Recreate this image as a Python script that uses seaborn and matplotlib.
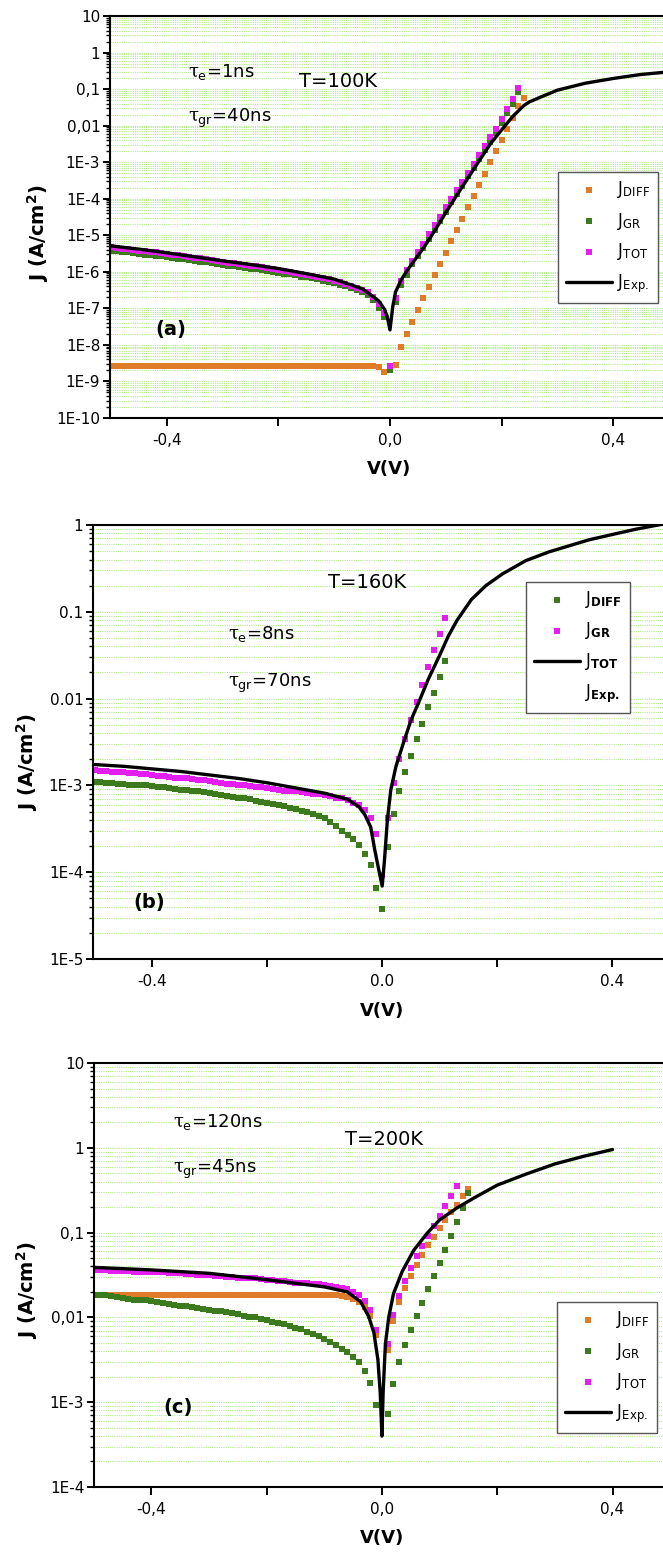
import numpy as np
import matplotlib
matplotlib.use('Agg')
import matplotlib.pyplot as plt
from matplotlib.lines import Line2D
from matplotlib.ticker import LogLocator, NullFormatter
import seaborn as sns


############
# Parameters
############
W, H = 663, 1554          # figure size in pixels (dpi 100)
NaN = np.nan

ORANGE = '#e07b2a'
GREEN = '#3c7a1e'
MAGENTA = '#e41df0'
GRID_GREEN = '#b2ee84'


######
# Data
######
# Bias grid of the simulated points (V)
V_GRID = [
    -0.50, -0.49, -0.48, -0.47, -0.46, -0.45, -0.44, -0.43, -0.42, -0.41,
    -0.40, -0.39, -0.38, -0.37, -0.36, -0.35, -0.34, -0.33, -0.32, -0.31,
    -0.30, -0.29, -0.28, -0.27, -0.26, -0.25, -0.24, -0.23, -0.22, -0.21,
    -0.20, -0.19, -0.18, -0.17, -0.16, -0.15, -0.14, -0.13, -0.12, -0.11,
    -0.10, -0.09, -0.08, -0.07, -0.06, -0.05, -0.04, -0.03, -0.02, -0.01,
    0.00, 0.01, 0.02, 0.03, 0.04, 0.05, 0.06, 0.07, 0.08, 0.09,
    0.10, 0.11, 0.12, 0.13, 0.14, 0.15, 0.16, 0.17, 0.18, 0.19,
    0.20, 0.21, 0.22, 0.23, 0.24,
]

# (a) T=100K  -- log10(J)
A_DIFF_LOG = [
    -8.57, -8.57, -8.57, -8.57, -8.57, -8.57, -8.57, -8.57, -8.57, -8.57,
    -8.57, -8.57, -8.57, -8.57, -8.57, -8.57, -8.57, -8.57, -8.57, -8.57,
    -8.57, -8.57, -8.57, -8.57, -8.57, -8.57, -8.57, -8.57, -8.57, -8.57,
    -8.57, -8.57, -8.57, -8.57, -8.57, -8.57, -8.57, -8.57, -8.57, -8.57,
    -8.57, -8.57, -8.57, -8.57, -8.57, -8.57, -8.57, -8.59, -8.61, -8.74,
    NaN, -8.56, -8.07, -7.70, -7.36, -7.04, -6.72, -6.41, -6.09, -5.78,
    -5.48, -5.17, -4.86, -4.55, -4.24, -3.93, -3.63, -3.32, -3.00, -2.70,
    -2.40, -2.09, -1.78, -1.47, -1.25,
]
A_GR_LOG = [
    -5.42, -5.44, -5.46, -5.47, -5.49, -5.51, -5.53, -5.55, -5.56, -5.58,
    -5.60, -5.62, -5.64, -5.66, -5.68, -5.70, -5.72, -5.74, -5.77, -5.79,
    -5.81, -5.83, -5.85, -5.87, -5.89, -5.91, -5.93, -5.96, -5.98, -6.00,
    -6.02, -6.05, -6.07, -6.10, -6.13, -6.15, -6.18, -6.21, -6.24, -6.27,
    -6.31, -6.35, -6.39, -6.44, -6.50, -6.56, -6.64, -6.76, -6.98, -7.24,
    -8.69, -6.83, -6.37, -6.08, -5.79, -5.58, -5.35, -5.10, -4.85, -4.61,
    -4.35, -4.10, -3.87, -3.64, -3.39, -3.16, -2.92, -2.68, -2.44, -2.19,
    -1.94, -1.66, -1.40, -1.09,
]
A_TOT_LOG = [
    -5.33, -5.35, -5.37, -5.38, -5.40, -5.42, -5.44, -5.46, -5.47, -5.49,
    -5.51, -5.53, -5.55, -5.57, -5.59, -5.61, -5.63, -5.65, -5.68, -5.70,
    -5.73, -5.75, -5.77, -5.79, -5.81, -5.83, -5.85, -5.88, -5.90, -5.92,
    -5.95, -5.98, -6.00, -6.03, -6.06, -6.08, -6.11, -6.14, -6.18, -6.21,
    -6.25, -6.29, -6.33, -6.38, -6.44, -6.50, -6.56, -6.68, -6.88, -7.13,
    -8.57, -6.73, -6.26, -5.96, -5.70, -5.47, -5.25, -4.96, -4.73, -4.49,
    -4.24, -4.01, -3.77, -3.53, -3.30, -3.05, -2.81, -2.57, -2.32, -2.08,
    -1.81, -1.55, -1.27, -0.98,
]
A_EXP_V = [-0.50, -0.45, -0.40, -0.35, -0.30, -0.25, -0.20, -0.15, -0.10, -0.05,
           -0.03, -0.02, -0.01, -0.005, 0.0, 0.005, 0.01, 0.02, 0.03, 0.04,
           0.05, 0.06, 0.08, 0.10, 0.12, 0.14, 0.16, 0.18, 0.20, 0.22,
           0.24, 0.25, 0.27, 0.30, 0.35, 0.40, 0.45, 0.52]
A_EXP_LOG = [-5.29, -5.38, -5.48, -5.59, -5.70, -5.80, -5.91, -6.05, -6.20, -6.46,
             -6.68, -6.80, -7.02, -7.22, -7.59, -6.95, -6.55, -6.22, -5.98, -5.77,
             -5.56, -5.35, -4.88, -4.38, -3.90, -3.43, -2.96, -2.50, -2.12, -1.75,
             -1.45, -1.35, -1.22, -1.03, -0.84, -0.71, -0.60, -0.50]

# (b) T=160K
B_DIFF_LOG = [
    -2.96, -2.96, -2.97, -2.97, -2.98, -2.98, -2.99, -2.99, -3.00, -3.00,
    -3.01, -3.02, -3.02, -3.03, -3.04, -3.05, -3.05, -3.06, -3.07, -3.08,
    -3.09, -3.10, -3.11, -3.12, -3.13, -3.14, -3.15, -3.16, -3.18, -3.19,
    -3.20, -3.21, -3.23, -3.24, -3.26, -3.27, -3.29, -3.31, -3.33, -3.35,
    -3.38, -3.42, -3.47, -3.52, -3.57, -3.62, -3.69, -3.79, -3.92, -4.18,
    -4.42, -3.71, -3.33, -3.07, -2.85, -2.66, -2.47, -2.29, -2.10, -1.93,
    -1.75, -1.57,
]
B_GR_LOG = [
    -2.82, -2.83, -2.83, -2.84, -2.84, -2.85, -2.86, -2.86, -2.87, -2.87,
    -2.88, -2.89, -2.89, -2.90, -2.91, -2.91, -2.92, -2.93, -2.94, -2.94,
    -2.95, -2.96, -2.97, -2.98, -2.98, -2.99, -3.00, -3.01, -3.02, -3.02,
    -3.03, -3.04, -3.05, -3.06, -3.06, -3.07, -3.08, -3.09, -3.10, -3.10,
    -3.11, -3.12, -3.14, -3.15, -3.17, -3.20, -3.23, -3.28, -3.37, -3.56,
    -4.03, -3.37, -2.97, -2.70, -2.47, -2.25, -2.04, -1.84, -1.64, -1.44,
    -1.26, -1.07,
]
B_EXP_V = [-0.50, -0.45, -0.40, -0.35, -0.30, -0.25, -0.20, -0.15, -0.10, -0.06,
           -0.04, -0.03, -0.02, -0.013, -0.006, 0.0, 0.004, 0.009, 0.015, 0.024,
           0.036, 0.05, 0.065, 0.08, 0.10, 0.115, 0.13, 0.155, 0.18, 0.21,
           0.25, 0.29, 0.36, 0.44, 0.52]
B_EXP_LOG = [-2.76, -2.78, -2.81, -2.84, -2.88, -2.92, -2.97, -3.03, -3.09, -3.16,
             -3.25, -3.34, -3.48, -3.74, -3.97, -4.16, -3.86, -3.40, -3.05, -2.78,
             -2.53, -2.25, -2.02, -1.78, -1.50, -1.28, -1.10, -0.86, -0.70, -0.56,
             -0.41, -0.31, -0.17, -0.05, 0.05]

# (c) T=200K
C_DIFF_LOG = [
    -1.73, -1.73, -1.73, -1.73, -1.73, -1.73, -1.73, -1.73, -1.73, -1.73,
    -1.73, -1.73, -1.73, -1.73, -1.73, -1.73, -1.73, -1.73, -1.73, -1.73,
    -1.73, -1.73, -1.73, -1.73, -1.73, -1.73, -1.73, -1.73, -1.73, -1.73,
    -1.73, -1.73, -1.73, -1.73, -1.73, -1.73, -1.73, -1.73, -1.73, -1.73,
    -1.73, -1.73, -1.74, -1.75, -1.76, -1.78, -1.82, -1.88, -1.98, -2.21,
    NaN, -2.39, -2.04, -1.82, -1.65, -1.51, -1.38, -1.26, -1.15, -1.05,
    -0.95, -0.85, -0.76, -0.67, -0.57, -0.48,
]
C_GR_LOG = [
    -1.73, -1.74, -1.74, -1.75, -1.76, -1.77, -1.78, -1.79, -1.79, -1.80,
    -1.81, -1.82, -1.83, -1.84, -1.85, -1.86, -1.87, -1.88, -1.89, -1.90,
    -1.91, -1.92, -1.93, -1.94, -1.95, -1.96, -1.98, -1.99, -2.00, -2.02,
    -2.03, -2.05, -2.07, -2.08, -2.10, -2.12, -2.14, -2.17, -2.19, -2.22,
    -2.25, -2.29, -2.33, -2.37, -2.41, -2.47, -2.53, -2.63, -2.77, -3.03,
    NaN, -3.14, -2.78, -2.53, -2.33, -2.15, -1.98, -1.83, -1.67, -1.51,
    -1.36, -1.20, -1.04, -0.88, -0.71, -0.53,
]
C_TOT_LOG = [
    -1.44, -1.44, -1.44, -1.45, -1.45, -1.45, -1.45, -1.46, -1.46, -1.46,
    -1.46, -1.47, -1.47, -1.48, -1.48, -1.48, -1.49, -1.49, -1.50, -1.50,
    -1.50, -1.51, -1.51, -1.52, -1.52, -1.53, -1.53, -1.54, -1.54, -1.55,
    -1.56, -1.56, -1.57, -1.57, -1.58, -1.59, -1.59, -1.60, -1.61, -1.61,
    -1.62, -1.63, -1.64, -1.65, -1.67, -1.70, -1.74, -1.81, -1.91, -2.15,
    NaN, -2.31, -1.97, -1.75, -1.57, -1.42, -1.28, -1.16, -1.04, -0.92,
    -0.80, -0.69, -0.57, -0.45,
]
C_EXP_V = [-0.50, -0.40, -0.30, -0.20, -0.10, -0.06, -0.037, -0.023, -0.014, -0.007,
           -0.003, 0.0, 0.002, 0.006, 0.012, 0.020, 0.035, 0.055, 0.078, 0.10,
           0.13, 0.16, 0.20, 0.25, 0.30, 0.35, 0.40]
C_EXP_LOG = [-1.41, -1.44, -1.48, -1.555, -1.64, -1.70, -1.815, -1.99, -2.18, -2.50,
             -2.89, -3.40, -2.89, -2.31, -1.99, -1.72, -1.46, -1.21, -1.01, -0.85,
             -0.71, -0.59, -0.44, -0.31, -0.19, -0.10, -0.02]

# Tick labels
A_YTICKS = ['10', '1', '0,1', '0,01', '1E-3', '1E-4', '1E-5', '1E-6', '1E-7', '1E-8', '1E-9', '1E-10']
B_YTICKS = ['1', '0.1', '0.01', '1E-3', '1E-4', '1E-5']
C_YTICKS = ['10', '1', '0,1', '0,01', '1E-3', '1E-4']
A_XTICKS = ['-0,4', '', '0,0', '', '0,4']
B_XTICKS = ['-0.4', '', '0.0', '', '0.4']
C_XTICKS = ['-0,4', '', '0,0', '', '0,4']

# Annotations
TEMPS = ['T=100K', 'T=160K', 'T=200K']
TAU_E = ['1ns', '8ns', '120ns']
TAU_GR = ['40ns', '70ns', '45ns']
TAGS = ['(a)', '(b)', '(c)']

LEG_NORMAL = [r'J$_{\rm DIFF}$', r'J$_{\rm GR}$', r'J$_{\rm TOT}$', r'J$_{\rm Exp.}$']
LEG_BOLD = [r'J$_{\mathbf{DIFF}}$', r'J$_{\mathbf{GR}}$', r'J$_{\mathbf{TOT}}$', r'J$_{\mathbf{Exp.}}$']


#############
# Preliminari
#############
sns.set_style('white')
plt.rcParams['font.family'] = ['DejaVu Sans']
plt.rcParams['mathtext.fontset'] = 'custom'
plt.rcParams['mathtext.rm'] = 'DejaVu Sans'
plt.rcParams['mathtext.it'] = 'DejaVu Serif'
plt.rcParams['mathtext.bf'] = 'DejaVu Sans:bold'
plt.rcParams['axes.edgecolor'] = 'black'
plt.rcParams['axes.linewidth'] = 1.5
# plain black text and ticks, as in the original
for key in ('text.color', 'axes.labelcolor', 'xtick.color', 'ytick.color'):
    plt.rcParams[key] = 'black'

fig = plt.figure(figsize=(W / 100, H / 100), dpi=100)


def px_axes(left, top, bottom, right=680):
    return fig.add_axes([left / W, 1 - bottom / H, (right - left) / W, (bottom - top) / H])


def fig_text(x, y, s, **kw):
    fig.text(x / W, 1 - y / H, s, **kw)


def style_axes(ax, xlim, ylim, ylabels, xlabels, ylab_xy, xlab_xy):
    ax.set_yscale('log')
    ax.set_xlim(*xlim)
    ax.set_ylim(*ylim)
    decades = np.arange(int(round(np.log10(ylim[1]))), int(round(np.log10(ylim[0]))) - 1, -1)
    ax.set_yticks(10.0 ** decades, labels=ylabels)
    ax.yaxis.set_minor_locator(LogLocator(base=10, subs=np.arange(2, 10), numticks=100))
    ax.yaxis.set_minor_formatter(NullFormatter())
    ax.set_xticks([-0.4, -0.2, 0.0, 0.2, 0.4], labels=xlabels)
    ax.tick_params(axis='y', which='major', left=True, direction='out', length=5, width=1.4,
                   labelsize=11, pad=2)
    ax.tick_params(axis='y', which='minor', left=True, direction='out', length=3, width=1.0)
    ax.tick_params(axis='x', which='major', bottom=True, direction='out', length=6, width=1.4,
                   labelsize=11, pad=5)
    ax.yaxis.grid(True, which='both', color=GRID_GREEN, linestyle=(0, (1, 1)), linewidth=0.8)
    ax.xaxis.grid(False)
    ax.set_axisbelow(True)
    ax.spines['right'].set_visible(False)
    ax.set_ylabel(r'J (A/cm$^{\mathbf{2}}$)', fontsize=14, fontweight='bold')
    ax.set_xlabel('V(V)', fontsize=13, fontweight='bold')
    ax.yaxis.set_label_coords(*ylab_xy)
    ax.xaxis.set_label_coords(*xlab_xy)


def points(ax, v, logj, color, label):
    sns.scatterplot(x=v, y=10.0 ** np.array(logj), ax=ax, marker='s', s=15, color=color,
                    linewidth=0, label=label, zorder=2)


def exp_line(ax, v, logj, label):
    sns.lineplot(x=v, y=10.0 ** np.array(logj), ax=ax, color='black', linewidth=2.4,
                 estimator=None, sort=False, label=label, zorder=3)


def legend(ax, handles, labels, left, top):
    leg = ax.legend(handles, labels, loc='upper left', bbox_to_anchor=(left / W, 1 - top / H),
                    bbox_transform=fig.transFigure, frameon=True, fancybox=False,
                    edgecolor='#555555', framealpha=1, borderaxespad=0, fontsize=12,
                    handlelength=2.8, handletextpad=0.3, labelspacing=0.6, borderpad=0.45)
    leg.get_frame().set_linewidth(1.0)


###########
# Panel (a)
###########
ax_a = px_axes(110, 16, 418)
points(ax_a, V_GRID, A_DIFF_LOG, ORANGE, 'diff')
points(ax_a, V_GRID[:74], A_GR_LOG, GREEN, 'gr')
points(ax_a, V_GRID[:74], A_TOT_LOG, MAGENTA, 'tot')
exp_line(ax_a, A_EXP_V, A_EXP_LOG, 'exp')
style_axes(ax_a, (-0.502, 0.520), (1e-10, 10), A_YTICKS, A_XTICKS, (-0.104, 0.46), (0.489, -0.105))
h, _ = ax_a.get_legend_handles_labels()
legend(ax_a, h, LEG_NORMAL, 558, 172)

fig_text(188, 77, r'$\tau_{\rm e}$=' + TAU_E[0], fontsize=13, va='baseline')
fig_text(188, 122, r'$\tau_{\rm gr}$=' + TAU_GR[0], fontsize=13, va='baseline')
fig_text(299, 87, TEMPS[0], fontsize=14, va='baseline')
fig_text(155, 330, TAGS[0], fontsize=14, fontweight='bold', va='center')


###########
# Panel (b)
###########
ax_b = px_axes(93, 525, 959)
points(ax_b, V_GRID[:62], B_DIFF_LOG, GREEN, 'diff')
points(ax_b, V_GRID[:62], B_GR_LOG, MAGENTA, 'gr')
exp_line(ax_b, B_EXP_V, B_EXP_LOG, 'tot')
style_axes(ax_b, (-0.503, 0.518), (1e-5, 1), B_YTICKS, B_XTICKS, (-0.090, 0.454), (0.492, -0.100))
h, _ = ax_b.get_legend_handles_labels()
h = h + [Line2D([], [], linestyle='none')]
legend(ax_b, h, LEG_BOLD, 526, 582)

fig_text(228, 639, r'$\tau_{\rm e}$=' + TAU_E[1], fontsize=13, va='baseline')
fig_text(228, 687, r'$\tau_{\rm gr}$=' + TAU_GR[1], fontsize=13, va='baseline')
fig_text(328, 588, TEMPS[1], fontsize=14, va='baseline')
fig_text(133, 903, TAGS[1], fontsize=14, fontweight='bold', va='center')


###########
# Panel (c)
###########
ax_c = px_axes(94, 1063, 1487)
points(ax_c, V_GRID[:66], C_DIFF_LOG, ORANGE, 'diff')
points(ax_c, V_GRID[:66], C_GR_LOG, GREEN, 'gr')
points(ax_c, V_GRID[:64], C_TOT_LOG, MAGENTA, 'tot')
exp_line(ax_c, C_EXP_V, C_EXP_LOG, 'exp')
style_axes(ax_c, (-0.4995, 0.517), (1e-4, 10), C_YTICKS, C_XTICKS, (-0.092, 0.465), (0.491, -0.100))
h, _ = ax_c.get_legend_handles_labels()
legend(ax_c, h, LEG_NORMAL, 557, 1302)

fig_text(173, 1127, r'$\tau_{\rm e}$=' + TAU_E[2], fontsize=13, va='baseline')
fig_text(173, 1173, r'$\tau_{\rm gr}$=' + TAU_GR[2], fontsize=13, va='baseline')
fig_text(345, 1145, TEMPS[2], fontsize=14, va='baseline')
fig_text(163, 1408, TAGS[2], fontsize=14, fontweight='bold', va='center')


######
# Save
######
fig.savefig('out.png', dpi=100)
